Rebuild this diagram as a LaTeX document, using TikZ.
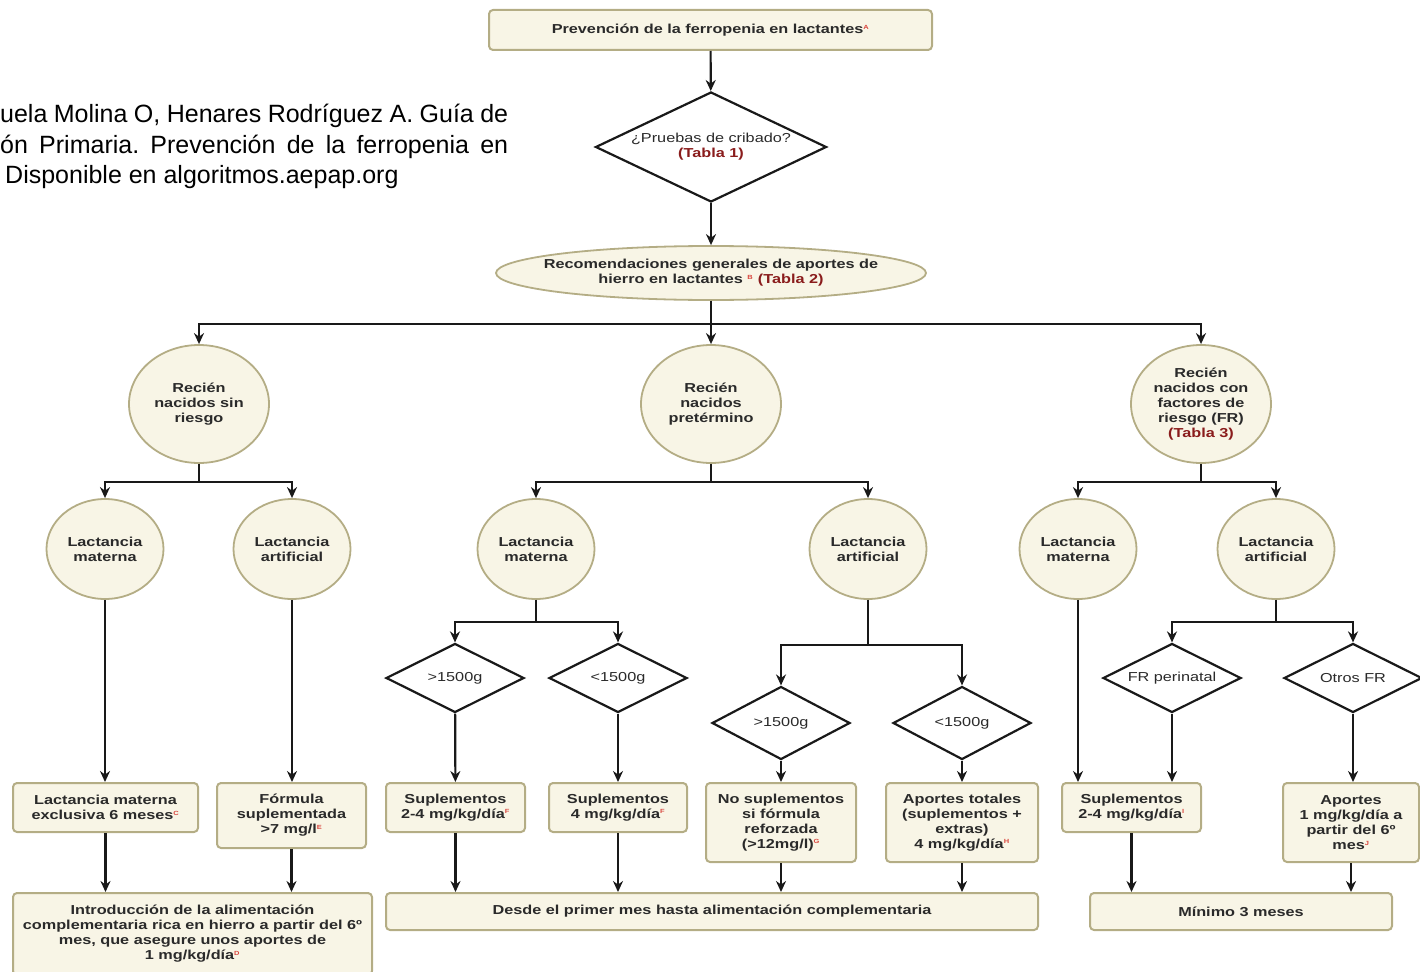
\documentclass[tikz,border=0pt]{standalone}
\usepackage{fontspec}
\setmainfont[FakeStretch=1.25]{Liberation Sans}
\newfontfamily\citefont{Liberation Sans}
\usetikzlibrary{shapes.geometric,arrows.meta}
\definecolor{crema}{HTML}{F8F5E6}
\definecolor{oliva}{HTML}{B4AD85}
\definecolor{tablarojo}{HTML}{8A1C1C}
\definecolor{notarojo}{HTML}{D9473F}
\definecolor{texto}{HTML}{2A2A2A}
\newcommand{\llamada}[1]{\textsuperscript{\textcolor{notarojo}{\fontsize{6}{6}\selectfont #1}}}
\newcommand{\tabla}[1]{\textcolor{tablarojo}{\bfseries (Tabla #1)}}
\frenchspacing

\begin{document}
\begin{tikzpicture}[x=1pt, y=-1pt,
    caja/.style={draw=oliva, line width=2pt, fill=crema, rounded corners=4pt, align=center, inner sep=0pt, text=texto, font=\fontsize{13}{15}\selectfont\bfseries},
    burbuja/.style={ellipse, draw=oliva, line width=1.8pt, fill=crema, align=center, inner sep=0pt, text=texto, font=\fontsize{13}{15}\selectfont\bfseries},
    rombo/.style={diamond, aspect=2, draw=black!90, line width=2.2pt, fill=white, align=center, inner sep=-6pt, text=texto, font=\fontsize{13}{15}\selectfont},
    flecha/.style={line width=2.2pt, draw=black!90, -{Stealth[length=11pt,width=10pt]}},
    linea/.style={line width=2.2pt, draw=black!90}]
\useasboundingbox (0,0) rectangle (1420,971);

\node[anchor=base west, inner sep=0pt, font=\citefont\fontsize{25}{30}\selectfont] (cita1) at (0,123) {\makebox[508pt][s]{uela Molina O, Henares Rodríguez A. Guía de}};
\node[anchor=base west, inner sep=0pt, font=\citefont\fontsize{25}{30}\selectfont] (cita2) at (0,153) {\makebox[508pt][s]{ón Primaria. Prevención de la ferropenia en}};
\node[anchor=base west, inner sep=0pt, font=\citefont\fontsize{25}{30}\selectfont] (cita3) at (5,183) {Disponible en algoritmos.aepap.org};

\node[caja, minimum width=443pt, minimum height=40pt] (titulo) at (710.5,30) {Prevención de la ferropenia en lactantes\llamada{A}};
\node[rombo, aspect=2.1, inner sep=-14pt, minimum width=231pt, minimum height=110pt] (cribado) at (711,147) {¿Pruebas de cribado?\\\tabla{1}};
\node[burbuja, inner xsep=-60pt, inner ysep=-6pt, minimum width=430pt, minimum height=54pt] (rec) at (711,273) {Recomendaciones generales de aportes de\\hierro en lactantes \llamada{B} \tabla{2}};

\node[burbuja, minimum width=140pt, minimum height=118pt] (sinriesgo) at (199,404) {Recién\\nacidos sin\\riesgo};
\node[burbuja, minimum width=140pt, minimum height=118pt] (pretermino) at (711,404) {Recién\\nacidos\\pretérmino};
\node[burbuja, minimum width=140pt, minimum height=118pt] (factores) at (1201,404) {Recién\\nacidos con\\factores de\\riesgo (FR)\\\tabla{3}};

\node[burbuja, minimum width=117pt, minimum height=100pt] (mat1) at (105,549) {Lactancia\\materna};
\node[burbuja, minimum width=117pt, minimum height=100pt] (art1) at (292,549) {Lactancia\\artificial};
\node[burbuja, minimum width=117pt, minimum height=100pt] (mat2) at (536,549) {Lactancia\\materna};
\node[burbuja, minimum width=117pt, minimum height=100pt] (art2) at (868,549) {Lactancia\\artificial};
\node[burbuja, minimum width=117pt, minimum height=100pt] (mat3) at (1078,549) {Lactancia\\materna};
\node[burbuja, minimum width=117pt, minimum height=100pt] (art3) at (1276,549) {Lactancia\\artificial};

\node[rombo, minimum width=138pt, minimum height=69pt] (mayor1) at (455,678) {>1500g};
\node[rombo, minimum width=138pt, minimum height=69pt] (menor1) at (618,678) {<1500g};
\node[rombo, minimum width=138pt, minimum height=73pt] (mayor2) at (781,723) {>1500g};
\node[rombo, minimum width=138pt, minimum height=73pt] (menor2) at (962,723) {<1500g};
\node[rombo, inner sep=-12pt, minimum width=138pt, minimum height=69pt] (perinatal) at (1172,678) {FR perinatal};
\node[rombo, minimum width=138pt, minimum height=69pt] (otros) at (1353,678) {Otros FR};

\node[caja, minimum width=185pt, minimum height=49pt] (exclusiva) at (105.5,807.5) {Lactancia materna\\exclusiva 6 meses\llamada{C}};
\node[caja, minimum width=149pt, minimum height=65pt] (formula) at (291.5,815.5) {Fórmula\\suplementada\\>7 mg/l\llamada{E}};
\node[caja, minimum width=359pt, minimum height=82pt] (complementaria) at (192.5,934) {Introducción de la alimentación\\complementaria rica en hierro a partir del 6º\\mes, que asegure unos aportes de\\1 mg/kg/día\llamada{D}};
\node[caja, minimum width=139pt, minimum height=49pt] (supl1) at (455.5,807.5) {Suplementos\\2-4 mg/kg/día\llamada{F}};
\node[caja, minimum width=138pt, minimum height=49pt] (supl2) at (618,807.5) {Suplementos\\4 mg/kg/día\llamada{F}};
\node[caja, minimum width=150pt, minimum height=79pt] (nosupl) at (781,822.5) {No suplementos\\si fórmula\\reforzada\\(>12mg/l)\llamada{G}};
\node[caja, minimum width=152pt, minimum height=79pt] (totales) at (962,822.5) {Aportes totales\\(suplementos +\\extras)\\4 mg/kg/día\llamada{H}};
\node[caja, minimum width=652pt, minimum height=37pt] (desde) at (712,911.5) {Desde el primer mes hasta alimentación complementaria};
\node[caja, minimum width=139pt, minimum height=49pt] (supl3) at (1131.5,807.5) {Suplementos\\2-4 mg/kg/día\llamada{I}};
\node[caja, minimum width=136pt, minimum height=79pt] (aportes) at (1351,822.5) {Aportes\\1 mg/kg/día a\\partir del 6º\\mes\llamada{J}};
\node[caja, minimum width=302pt, minimum height=37pt] (minimo) at (1241,911.5) {Mínimo 3 meses};

\draw[flecha] (titulo) -- (cribado);
\draw[flecha] (cribado) -- (rec);
\foreach \n in {sinriesgo,pretermino,factores}
    \draw[flecha] (rec.south) -- ++(0,23) -| (\n.north);
\foreach \n in {mat1,art1} \draw[flecha] (sinriesgo.south) -- ++(0,18) -| (\n.north);
\foreach \n in {mat2,art2} \draw[flecha] (pretermino.south) -- ++(0,18) -| (\n.north);
\foreach \n in {mat3,art3} \draw[flecha] (factores.south) -- ++(0,18) -| (\n.north);
\foreach \n in {mayor1,menor1} \draw[flecha] (mat2.south) -- ++(0,22) -| (\n.north);
\foreach \n in {mayor2,menor2} \draw[flecha] (art2.south) -- ++(0,45) -| (\n.north);
\foreach \n in {perinatal,otros} \draw[flecha] (art3.south) -- ++(0,22) -| (\n.north);

\draw[flecha] (mat1.south) -- (mat1.south |- exclusiva.north);
\draw[flecha] (art1.south) -- (art1.south |- formula.north);
\draw[flecha] (mayor1) -- (supl1);
\draw[flecha] (menor1) -- (supl2);
\draw[flecha] (mayor2) -- (nosupl);
\draw[flecha] (menor2) -- (totales);
\draw[flecha] (mat3.south) -- (mat3.south |- supl3.north);
\draw[flecha] (perinatal.south) -- (perinatal.south |- supl3.north);
\draw[flecha] (otros.south) -- (otros.south |- aportes.north);

\foreach \n in {exclusiva,formula} \draw[flecha] (\n.south) -- (\n.south |- complementaria.north);
\foreach \n in {supl1,supl2,nosupl,totales} \draw[flecha] (\n.south) -- (\n.south |- desde.north);
\foreach \n in {supl3,aportes} \draw[flecha] (\n.south) -- (\n.south |- minimo.north);
\end{tikzpicture}
\end{document}
